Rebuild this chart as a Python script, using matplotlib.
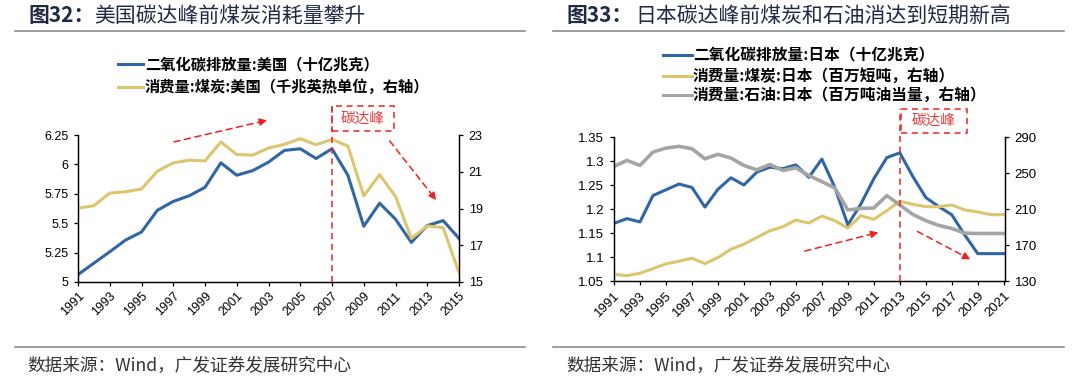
import matplotlib
matplotlib.use("Agg")
import matplotlib.pyplot as plt
from matplotlib.lines import Line2D
from matplotlib.patches import Rectangle

CJK = ['Noto Sans CJK SC', 'DejaVu Sans']
NUM = ['Liberation Sans', 'DejaVu Sans']
plt.rcParams['font.family'] = CJK

# ---------------- data: USA (figure 32) ----------------
us_years = list(range(1991, 2016))
us_co2 = [5.063, 5.16, 5.257, 5.357, 5.425, 5.61, 5.685, 5.733, 5.805, 6.013,
          5.908, 5.947, 6.019, 6.119, 6.133, 6.05, 6.133, 5.908, 5.474, 5.67,
          5.534, 5.337, 5.48, 5.522, 5.371]
us_coal = [19.02, 19.15, 19.84, 19.91, 20.06, 21.03, 21.48, 21.63, 21.59, 22.62,
           21.94, 21.90, 22.29, 22.49, 22.80, 22.47, 22.76, 22.40, 19.69, 20.84,
           19.66, 17.37, 18.05, 17.96, 15.51]
us_left_ticks = [5, 5.25, 5.5, 5.75, 6, 6.25]
us_left_labels = ['5', '5.25', '5.5', '5.75', '6', '6.25']
us_right_ticks = [15, 17, 19, 21, 23]
us_xticks = list(range(1991, 2016, 2))
us_peak = 2007

# ---------------- data: Japan (figure 33) ----------------
jp_years = list(range(1991, 2022))
jp_co2 = [1.170, 1.180, 1.173, 1.228, 1.240, 1.252, 1.245, 1.204, 1.241, 1.265,
          1.250, 1.277, 1.287, 1.284, 1.292, 1.266, 1.304, 1.245, 1.167, 1.210,
          1.263, 1.307, 1.317, 1.268, 1.224, 1.205, 1.188, 1.146, 1.107, 1.107,
          1.107]
jp_coal = [137.4, 136.0, 138.6, 143.8, 149.0, 152.0, 155.3, 149.3, 156.0, 165.3,
           170.9, 178.4, 185.8, 190.3, 197.7, 194.4, 202.2, 197.0, 188.8, 202.6,
           198.5, 208.1, 218.6, 215.2, 212.6, 212.6, 214.5, 208.9, 206.7, 203.7,
           203.7]
jp_oil = [257.3, 264.0, 258.4, 273.3, 277.7, 279.6, 277.0, 265.8, 270.7, 266.6,
          258.4, 253.5, 259.5, 252.8, 255.8, 247.2, 240.5, 233.4, 208.9, 210.7,
          211.1, 224.9, 214.5, 204.0, 197.0, 191.8, 188.4, 183.2, 182.8, 182.8,
          182.8]
jp_left_ticks = [1.05, 1.1, 1.15, 1.2, 1.25, 1.3, 1.35]
jp_left_labels = ['1.05', '1.1', '1.15', '1.2', '1.25', '1.3', '1.35']
jp_right_ticks = [130, 170, 210, 250, 290]
jp_xticks = list(range(1991, 2022, 2))
jp_peak = 2013

# ---------------- texts ----------------
title_us_num = '图32：'
title_us = '美国碳达峰前煤炭消耗量攀升'
title_jp_num = '图33：'
title_jp = '日本碳达峰前煤炭和石油消达到短期新高'
leg_us = ['二氧化碳排放量:美国（十亿兆克）', '消费量:煤炭:美国（千兆英热单位，右轴）']
leg_jp = ['二氧化碳排放量:日本（十亿兆克）', '消费量:煤炭:日本（百万短吨，右轴）',
          '消费量:石油:日本（百万吨油当量，右轴）']
source = '数据来源：Wind，广发证券发展研究中心'
peak_label = '碳达峰'

BLUE = '#2f66a3'
YELLOW = '#dcc56e'
GREY = '#a5a5a5'
RED = '#f02020'
TITLE_C = '#1f2b45'

W, H = 1080, 383
fig = plt.figure(figsize=(W / 100, H / 100), dpi=100)


def fx(px):
    return px / W


def fy(py):
    return 1 - py / H


def style_axes(ax, ax2, xticks, fs):
    for a in (ax, ax2):
        a.spines['top'].set_visible(False)
        for s in ('left', 'right', 'bottom'):
            a.spines[s].set_linewidth(0.9)
            a.spines[s].set_color('black')
    ax.set_xticks(xticks)
    ax.set_xticklabels([str(x) for x in xticks], rotation=45, ha='right',
                       rotation_mode='anchor', family=NUM, fontsize=fs)
    ax.tick_params(axis='x', length=3, width=0.9, pad=3)
    ax.tick_params(axis='y', length=3, width=0.9, pad=4, labelsize=fs)
    ax2.tick_params(axis='y', length=3, width=0.9, pad=4, labelsize=fs)
    for lab in ax.get_yticklabels() + ax2.get_yticklabels():
        lab.set_family(NUM)


def dashed_arrow(ax, start, end):
    ax.annotate('', xy=end, xytext=start, xycoords='axes fraction',
                textcoords='axes fraction', annotation_clip=False,
                arrowprops=dict(arrowstyle='-', linestyle=(0, (4, 3)),
                                color=RED, lw=1.1, shrinkA=0, shrinkB=4))
    near = (end[0] - (end[0] - start[0]) * 0.06, end[1] - (end[1] - start[1]) * 0.06)
    ax.annotate('', xy=end, xytext=near, xycoords='axes fraction',
                textcoords='axes fraction', annotation_clip=False,
                arrowprops=dict(arrowstyle='-|>', color=RED, lw=1.0,
                                mutation_scale=11, shrinkA=0, shrinkB=0))


def peak_marker(ax, xpeak, box):
    x0, x1, y0, y1 = box
    ax.plot([xpeak, xpeak], [0, y1], transform=ax.get_xaxis_transform(),
            color=RED, lw=1.1, ls=(0, (4, 3)), clip_on=False, zorder=5)
    ax.add_patch(Rectangle((x0, y0), x1 - x0, y1 - y0, transform=ax.transAxes,
                           fill=False, ec=RED, lw=1.1, ls=(0, (4, 3)),
                           clip_on=False, zorder=5))
    ax.text((x0 + x1) / 2, (y0 + y1) / 2, peak_label, transform=ax.transAxes,
            ha='center', va='center', color='#e83a3a', fontsize=10.5,
            family=CJK)


def legend_rows(x_line0, x_line1, x_text, ys, labels, colors, fs):
    for y, lab, c in zip(ys, labels, colors):
        fig.add_artist(Line2D([fx(x_line0), fx(x_line1)], [fy(y), fy(y)],
                              color=c, lw=2.2, transform=fig.transFigure))
        fig.text(fx(x_text), fy(y), lab, ha='left', va='center', fontsize=fs,
                 color='black', fontweight='bold', family=CJK)


# ---------------- left chart ----------------
axL = fig.add_axes([fx(78), fy(282), fx(459 - 78), (282 - 135) / H])
axL2 = axL.twinx()
axL.plot(us_years, us_co2, color=BLUE, lw=2.2)
axL2.plot(us_years, us_coal, color=YELLOW, lw=2.2)
axL.set_xlim(1991, 2015)
axL.set_ylim(5, 6.25)
axL2.set_ylim(15, 23)
axL.set_yticks(us_left_ticks)
axL.set_yticklabels(us_left_labels)
axL2.set_yticks(us_right_ticks)
axL2.set_yticklabels([str(t) for t in us_right_ticks])
style_axes(axL, axL2, us_xticks, 9)
dashed_arrow(axL2, (0.252, 0.953), (0.496, 1.10))
dashed_arrow(axL2, (0.818, 0.96), (0.940, 0.558))
peak_marker(axL2, us_peak, (0.6667, 0.829, 1.027, 1.197))

# ---------------- right chart ----------------
axR = fig.add_axes([fx(614), fy(281), fx(1005 - 614), (281 - 137) / H])
axR2 = axR.twinx()
axR.plot(jp_years, jp_co2, color=BLUE, lw=2.2)
axR2.plot(jp_years, jp_coal, color=YELLOW, lw=2.2)
axR2.plot(jp_years, jp_oil, color=GREY, lw=2.6)
axR.set_xlim(1991, 2021.1)
axR.set_ylim(1.05, 1.35)
axR2.set_ylim(130, 290)
axR.set_yticks(jp_left_ticks)
axR.set_yticklabels(jp_left_labels)
axR2.set_yticks(jp_right_ticks)
axR2.set_yticklabels([str(t) for t in jp_right_ticks])
style_axes(axR, axR2, jp_xticks, 9.5)
dashed_arrow(axR2, (0.488, 0.208), (0.676, 0.337))
dashed_arrow(axR2, (0.776, 0.344), (0.911, 0.151))
peak_marker(axR2, jp_peak, (0.7333, 0.903, 1.028, 1.194))

# ---------------- titles, rules, legends, sources ----------------
for x_num, x_txt, num, txt in ((28, 94, title_us_num, title_us),
                               (567, 635, title_jp_num, title_jp)):
    fig.text(fx(x_num), fy(16), num, ha='left', va='center', fontsize=15,
             color=TITLE_C, fontweight='bold', family=CJK)
    fig.text(fx(x_txt), fy(16), txt, ha='left', va='center', fontsize=15,
             color=TITLE_C, fontweight='medium', family=CJK)
for xa, xb in ((15, 525), (553, 1064)):
    for yy in (31, 347):
        fig.add_artist(Line2D([fx(xa), fx(xb)], [fy(yy), fy(yy)], color='#8c8c8c',
                              lw=1.2, transform=fig.transFigure))
legend_rows(118, 143, 145, [64, 87], leg_us, [BLUE, YELLOW], 11)
legend_rows(663, 692, 693, [55, 76, 95], leg_jp, [BLUE, YELLOW, GREY], 11.3)
fig.text(fx(27), fy(366), source, ha='left', va='center', fontsize=12.7,
         color='#333333', family=CJK)
fig.text(fx(566), fy(366), source, ha='left', va='center', fontsize=12.7,
         color='#333333', family=CJK)

fig.savefig('out.png', dpi=100)
